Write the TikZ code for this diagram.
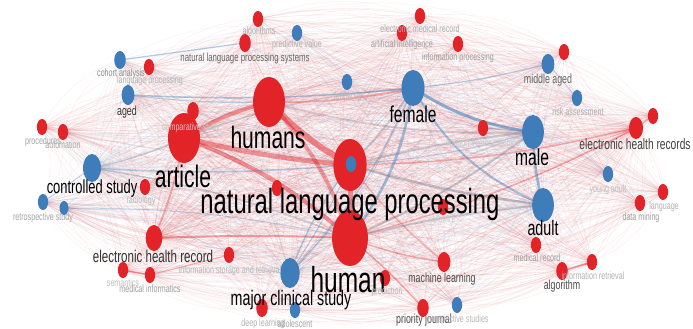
\documentclass[tikz,border=0pt]{standalone}
\usepackage{fontspec}
\newfontfamily\vfont[FakeStretch=0.68]{Liberation Sans}
\usetikzlibrary{shapes.geometric}
\definecolor{vred}{RGB}{226,35,40}
\definecolor{vblue}{RGB}{62,125,185}
\definecolor{vgrey}{RGB}{120,122,140}
\pgfdeclarelayer{bg}
\pgfsetlayers{bg,main}
\tikzset{
  nd/.style={ellipse, inner sep=0pt, draw=none, minimum height={2*#1}, minimum width={1.28*#1}},
  rn/.style={nd=#1, fill=vred},
  bn/.style={nd=#1, fill=vblue},
  big/.style={font={\vfont\fontsize{#1}{#1}\selectfont}, text=black, inner sep=0pt, anchor=base},
  mid/.style={font={\vfont\fontsize{13}{13}\selectfont}, text=black!#1, inner sep=0pt, anchor=base},
  sm/.style={font={\vfont\fontsize{10.5}{10.5}\selectfont}, text=black!#1, inner sep=0pt, anchor=base},
}
\def\nodelist{nlp/vred,human/vred,humans/vred,article/vred,ehrs/vred,ehr/vred,ml/vred,algo/vred,pj/vred,lp/vred,nlps/vred,algs/vred,emr/vred,ai/vred,ip/vred,cs/vred,proc/vred,auto/vred,rad/vred,svm/vred,lang/vred,dm/vred,mr/vred,ir/vred,pred/vred,dl/vred,isr/vred,sem/vred,mi/vred,sw/vred,xa/vred,xb/vred,xc/vred,female/vblue,male/vblue,adult/vblue,ctrl/vblue,mcs/vblue,aged/vblue,midage/vblue,coh/vblue,pv/vblue,fu/vblue,ra/vblue,rsa/vblue,rsb/vblue,ya/vblue,ps/vblue,adol/vblue}
\begin{document}
\begin{tikzpicture}[x=1pt,y=-1pt]
\useasboundingbox (0,0) rectangle (693,329);
% ---- nodes (big first)
\node[rn=26] (nlp) at (350,165) {};
\node[rn=28] (human) at (350,238) {};
\node[rn=25] (humans) at (269,102) {};
\node[rn=25] (article) at (184,138) {};
\node[bn=18] (female) at (413,88) {};
\node[bn=17] (male) at (533,132) {};
\node[bn=17] (adult) at (543,205) {};
\node[bn=14] (ctrl) at (92,168) {};
\node[bn=15] (mcs) at (290,273) {};
\node[rn=11] (ehrs) at (636,128) {};
\node[rn=13] (ehr) at (154,238) {};
\node[rn=10] (ml) at (444,262) {};
\node[rn=9] (algo) at (562,271) {};
\node[rn=9] (pj) at (423,308) {};
\node[rn=8] (lp) at (149,67) {};
\node[rn=9] (nlps) at (245,43) {};
\node[rn=8] (algs) at (258,19) {};
\node[rn=8] (emr) at (420,16) {};
\node[rn=8] (ai) at (402,33) {};
\node[rn=8] (ip) at (458,44) {};
\node[rn=9] (cs) at (193,111) {};
\node[rn=8] (proc) at (42,127) {};
\node[rn=8] (auto) at (63,132) {};
\node[rn=8] (rad) at (145,187) {};
\node[rn=8] (svm) at (483,128) {};
\node[rn=8] (lang) at (663,192) {};
\node[rn=8] (dm) at (640,203) {};
\node[rn=8] (mr) at (536,245) {};
\node[rn=8] (ir) at (592,262) {};
\node[rn=8] (pred) at (385,278) {};
\node[rn=9] (dl) at (262,308) {};
\node[rn=8] (isr) at (229,255) {};
\node[rn=8] (sem) at (123,270) {};
\node[rn=8] (mi) at (150,275) {};
\node[rn=8] (sw) at (443,207) {};
\node[rn=8] (xa) at (564,52) {};
\node[rn=8] (xb) at (653,116) {};
\node[rn=8] (xc) at (277,188) {};
\node[bn=10] (aged) at (128,95) {};
\node[bn=10] (midage) at (548,64) {};
\node[bn=9] (coh) at (120,60) {};
\node[bn=8] (pv) at (297,33) {};
\node[bn=8] (fu) at (347,82) {};
\node[bn=8] (ra) at (577,98) {};
\node[bn=8] (rsa) at (43,202) {};
\node[bn=7] (rsb) at (64,208) {};
\node[bn=8] (ya) at (608,174) {};
\node[bn=8] (ps) at (457,305) {};
\node[bn=8] (adol) at (295,310) {};
\node[bn=8] (nlpb) at (351,164) {};
% ---- edges
\begin{pgfonlayer}{bg}
\fill[white] (0,0) rectangle (693,329);
\foreach \a/\ca [count=\i] in \nodelist {
  \foreach \b/\cb [count=\j] in \nodelist {
    \ifnum\j>\i
      \draw[\ca, opacity=0.08, line width=0.4pt] (\a.center) to[bend left=20] (\b.center);
    \fi
  }
}
\foreach \h/\ch in {nlp/vred,human/vred,humans/vred,article/vred,female/vblue,male/vblue,adult/vblue,ctrl/vblue,mcs/vblue,ehrs/vred,ehr/vred} {
  \foreach \b/\cb in \nodelist {
    \draw[\ch, opacity=0.09, line width=0.5pt] (\h.center) to[bend left=12] (\b.center);
  }
}
\foreach \a/\b/\w/\c/\o/\bd in {
  humans/nlp/6/vred/.5/-8, article/nlp/5/vred/.45/-4, article/human/4/vred/.45/10,
  humans/human/4/vred/.4/12, nlp/human/5/vred/.5/0, article/humans/4/vred/.45/8,
  humans/female/2/vred/.3/-6, article/ehr/2/vred/.35/6, human/ml/1.5/vred/.35/-6,
  nlp/ehrs/1.5/vred/.3/-6, human/ehrs/1.5/vred/.35/-6, ehr/human/2/vred/.4/2,
  sem/mi/1.5/vred/.5/0, mi/isr/1.2/vred/.35/0, algo/ir/1.5/vred/.5/0, ehrs/xb/1.2/vred/.4/0,
  human/pj/1.5/vred/.35/4, nlp/ml/1.5/vred/.3/-6, article/ctrl/1.5/vgrey/.35/6,
  coh/nlps/1.2/vblue/.4/0, aged/female/1.5/vblue/.4/-4, svm/male/1.2/vblue/.35/0,
  ra/midage/1/vblue/.3/0, midage/female/1.2/vblue/.35/4, rsa/ctrl/1/vblue/.3/0, rsb/human/1/vblue/.3/6,
  female/male/3/vblue/.55/-12, male/adult/2.5/vblue/.5/-6, female/adult/2/vblue/.45/-18,
  female/human/2.5/vblue/.45/14, female/mcs/1.5/vblue/.35/10, male/human/2/vgrey/.4/6,
  adult/nlp/2.5/vgrey/.4/4, male/nlp/2/vgrey/.35/-4, adult/human/2/vgrey/.35/-4,
  ctrl/nlp/1.5/vblue/.35/-4, ctrl/human/1.5/vgrey/.3/6, mcs/nlp/1.5/vblue/.35/8,
  female/nlp/2/vgrey/.35/6, female/article/1.5/vgrey/.3/-8, male/humans/1.5/vgrey/.3/8,
  aged/humans/1.2/vblue/.3/-4, nlpb/male/1.2/vblue/.3/-6, nlpb/mcs/1/vblue/.35/4}
{
  \draw[\c, line width=\w pt, opacity=\o] (\a.center) to[bend left=\bd] (\b.center);
}
\end{pgfonlayer}
% ---- labels
\node[big=35] (l-nlp) at (350,213) {natural language processing};
\node[big=36] (l-human) at (348,292) {human};
\node[big=31] (l-humans) at (268,148) {humans};
\node[big=31] (l-article) at (183,187) {article};
\node[big=23] (l-female) at (413,122) {female};
\node[big=23] (l-male) at (532,165) {male};
\node[big=21] (l-adult) at (543,235) {adult};
\node[big=19] (l-ctrl) at (92,193) {controlled study};
\node[big=21] (l-mcs) at (291,305) {major clinical study};
\node[mid=75, font={\vfont\fontsize{15}{15}\selectfont}] (l-ehrs) at (635,149) {electronic health records};
\node[mid=80, font={\vfont\fontsize{17}{17}\selectfont}] (l-ehr) at (153,262) {electronic health record};
\node[mid=70] (l-ml) at (442,282) {machine learning};
\node[mid=70] (l-algo) at (562,289) {algorithm};
\node[mid=70] (l-pj) at (424,323) {priority journal};
\node[mid=80] (l-aged) at (127,115) {aged};
\node[mid=60] (l-mid) at (548,83) {middle aged};
\node[sm=60, font={\vfont\fontsize{11.5}{11.5}\selectfont}] (l-nlps) at (245,62) {natural language processing systems};
\node[sm=45] (l-coh) at (121,77) {cohort analysis};
\node[sm=30] (l-lp) at (150,83) {language processing};
\node[sm=32] (l-algs) at (259,35) {algorithms};
\node[sm=30] (l-pv) at (297,48) {predictive value};
\node[sm=32] (l-emr) at (420,33) {electronic medical record};
\node[sm=38] (l-ai) at (402,48) {artificial intelligence};
\node[sm=38] (l-ip) at (458,60) {information processing};
\node[sm=28] (l-fu) at (348,99) {follow up};
\node[sm=32] (l-ra) at (578,115) {risk assessment};
\node[sm=22] (l-cs) at (191,130) {comparative study};
\node[sm=35] (l-proc) at (43,144) {procedures};
\node[sm=35] (l-auto) at (63,148) {automation};
\node[sm=35] (l-rs) at (43,220) {retrospective study};
\node[sm=28] (l-rad) at (141,203) {radiology};
\node[sm=22] (l-svm) at (483,146) {support vector machine};
\node[sm=25] (l-ya) at (608,192) {young adult};
\node[sm=30] (l-lang) at (664,209) {language};
\node[sm=38] (l-dm) at (641,220) {data mining};
\node[sm=38] (l-mr) at (537,261) {medical record};
\node[sm=30] (l-ir) at (593,279) {information retrieval};
\node[sm=28] (l-ps) at (458,322) {prospective studies};
\node[sm=28] (l-pred) at (387,294) {prediction};
\node[sm=30] (l-dl) at (263,326) {deep learning};
\node[sm=35] (l-adol) at (295,327) {adolescent};
\node[sm=28] (l-isr) at (230,273) {information storage and retrieval};
\node[sm=25] (l-sem) at (123,286) {semantics};
\node[sm=38] (l-mi) at (150,292) {medical informatics};
\node[sm=20] (l-sw) at (442,222) {software};
\end{tikzpicture}
\end{document}
